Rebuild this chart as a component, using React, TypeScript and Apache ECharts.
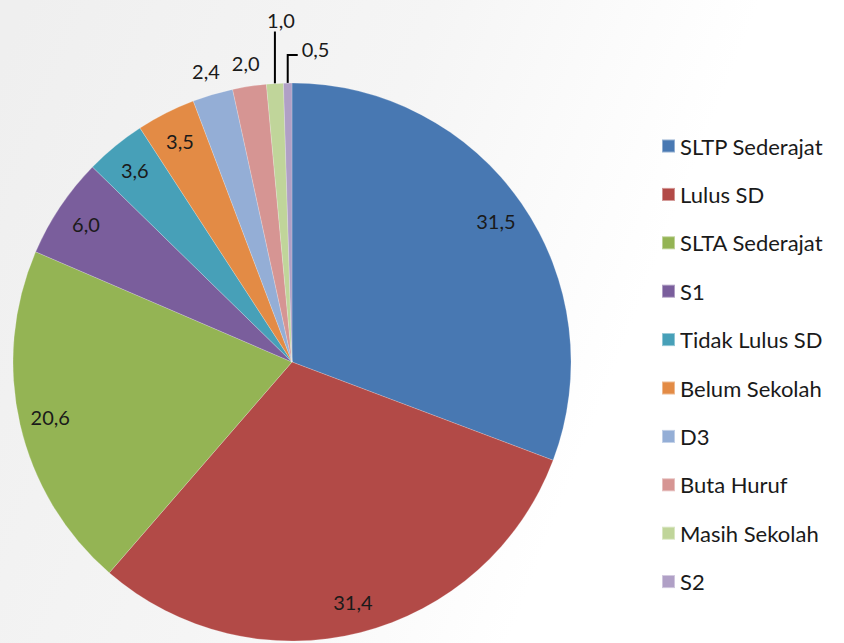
import React, { useEffect, useRef } from "react";
import * as echarts from "echarts";

const categories = [
  "SLTP Sederajat",
  "Lulus SD",
  "SLTA Sederajat",
  "S1",
  "Tidak Lulus SD",
  "Belum Sekolah",
  "D3",
  "Buta Huruf",
  "Masih Sekolah",
  "S2",
];
const values = [31.5, 31.4, 20.6, 6.0, 3.6, 3.5, 2.4, 2.0, 1.0, 0.5];
const colors = [
  "#4878B2",
  "#B24A47",
  "#94B454",
  "#7A5E9C",
  "#47A0B8",
  "#E38B45",
  "#94AED6",
  "#D69593",
  "#C0D59A",
  "#B0A0C6",
];
// label placement groups (by category index)
const insideIdx = [0, 1, 2, 3, 4, 5];
const nearIdx = [6, 7];
const leaderIdx = [8, 9];

const FONT = "Lato";
const fmt = (v: number) => v.toFixed(1).replace(".", ",");

export default function App() {
  const ref = useRef<HTMLDivElement>(null);
  useEffect(() => {
    if (!ref.current) return;
    const chart = echarts.init(ref.current, undefined, { renderer: "svg" });
    const center = [292, 362];
    const R = 279;
    const labelBase = {
      color: "#1a1a1a",
      fontFamily: FONT,
      fontSize: 20,
      formatter: (p: any) => fmt(p.value),
    };
    const overlayData = (idx: number[]) =>
      categories.map((name, i) => ({
        name,
        value: values[i],
        label: { show: idx.includes(i) },
        labelLine: { show: false },
      }));

    chart.setOption({
      animation: false,
      backgroundColor: {
        type: "linear",
        x: 0,
        y: 0.1,
        x2: 1,
        y2: 0.4,
        colorStops: [
          { offset: 0, color: "#efefef" },
          { offset: 0.45, color: "#f5f5f5" },
          { offset: 0.8, color: "#ffffff" },
          { offset: 1, color: "#ffffff" },
        ],
      },
      legend: {
        orient: "vertical",
        left: 656,
        top: 130,
        itemWidth: 13,
        itemHeight: 13,
        itemGap: 26.4,
        icon: "rect",
        selectedMode: false,
        textStyle: {
          color: "#1a1a1a",
          fontFamily: FONT,
          fontSize: 22,
          lineHeight: 22,
        },
        data: categories.map((name, i) => ({
          name,
          itemStyle: { color: colors[i] },
        })),
      },
      series: [
        {
          type: "pie",
          center,
          radius: R,
          startAngle: 90,
          clockwise: true,
          avoidLabelOverlap: false,
          silent: true,
          label: { show: false },
          labelLine: { show: false },
          itemStyle: { borderWidth: 0.5, borderColor: "rgba(255,255,255,0.4)" },
          data: categories.map((name, i) => ({
            name,
            value: values[i],
            itemStyle: { color: colors[i] },
          })),
        },
        {
          type: "pie",
          center,
          radius: [211, R],
          startAngle: 90,
          avoidLabelOverlap: false,
          silent: true,
          itemStyle: { color: "rgba(0,0,0,0)" },
          label: { position: "inside", ...labelBase },
          data: overlayData(insideIdx),
        },
        {
          type: "pie",
          center,
          radius: [R, 321],
          startAngle: 90,
          avoidLabelOverlap: false,
          silent: true,
          itemStyle: { color: "rgba(0,0,0,0)" },
          label: { position: "inside", ...labelBase },
          data: overlayData(nearIdx),
        },
        {
          type: "pie",
          center,
          radius: R,
          startAngle: 90,
          avoidLabelOverlap: false,
          silent: true,
          itemStyle: { color: "rgba(0,0,0,0)" },
          label: { position: "outside", ...labelBase },
          labelLine: {
            show: true,
            length: 50,
            length2: 0,
            lineStyle: { color: "#000000", width: 2 },
          },
          data: categories.map((name, i) => ({
            name,
            value: values[i],
            label: { show: leaderIdx.includes(i) },
            labelLine: { show: leaderIdx.includes(i) },
          })),
          labelLayout: (params: any) => {
            const pts = params.labelLinePoints;
            if (!pts || !pts.length) return {};
            const p0 = pts[0];
            if (params.dataIndex === leaderIdx[0]) {
              const top = p0[1] - 52;
              return {
                labelLinePoints: [
                  [p0[0], p0[1]],
                  [p0[0], top],
                ],
                x: p0[0] + 6,
                y: top - 2,
                align: "center",
                verticalAlign: "bottom",
              };
            }
            if (params.dataIndex === leaderIdx[1]) {
              const yy = p0[1] - 28;
              return {
                labelLinePoints: [
                  [p0[0], p0[1]],
                  [p0[0], yy],
                  [p0[0] + 10, yy],
                ],
                x: p0[0] + 14,
                y: yy - 6,
                align: "left",
                verticalAlign: "middle",
              };
            }
            return {};
          },
        },
      ],
    });
    return () => chart.dispose();
  }, []);
  return (
    <div
      ref={ref}
      style={{ position: "fixed", left: 0, top: 0, width: 844, height: 643 }}
    />
  );
}
